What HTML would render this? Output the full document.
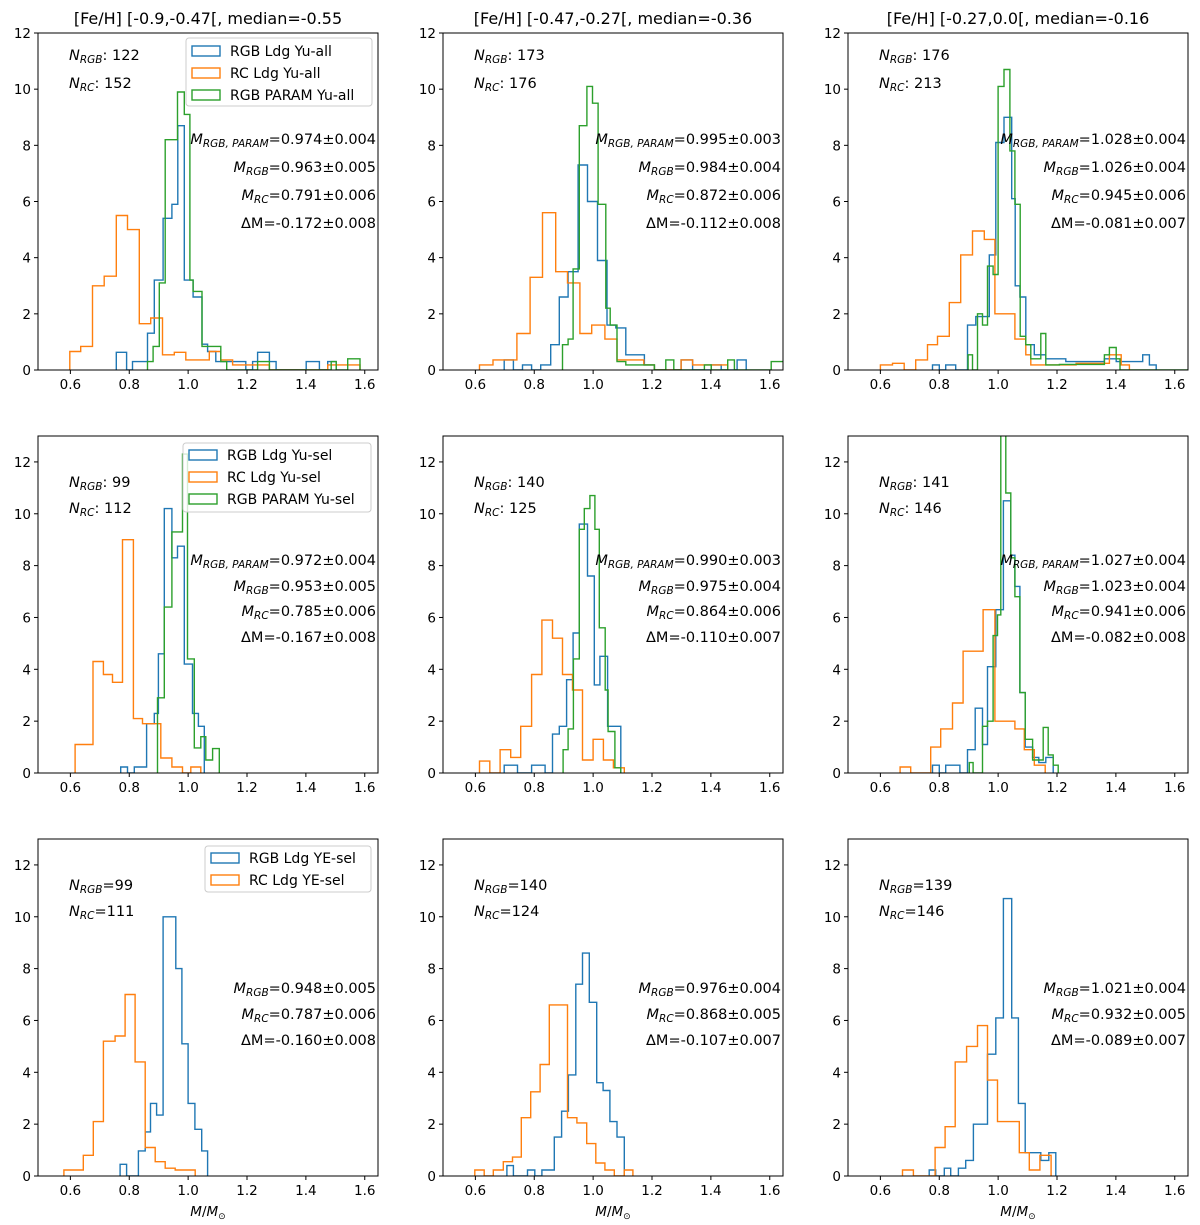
<!DOCTYPE html>
<html><head><meta charset="utf-8">
<style>
html,body{margin:0;padding:0;background:#fff;}
svg{display:block;font-family:"DejaVu Sans","Liberation Sans",sans-serif;}
</style></head>
<body>
<svg id="fig" width="1200" height="1225" viewBox="0 0 1200 1225" xmlns="http://www.w3.org/2000/svg"></svg>
<script>
// ---- data: histogram bin edges (M/Msun) and densities ----
const p1_rc_edges=[0.598,0.635,0.675,0.715,0.756,0.794,0.834,0.873,0.913,0.953,0.992,1.032,1.072,1.111,1.151,1.276,1.474,1.584];
const p1_rc_vals=[0.66,0.84,3.0,3.34,5.5,5.0,1.65,1.85,0.54,0.63,0.36,0.36,0.66,0.36,0.18,0,0.18];
const p1_rgb_edges=[0.756,0.791,0.811,0.862,0.885,0.915,0.945,0.965,0.987,1.017,1.047,1.066,1.094,1.111,1.196,1.219,1.236,1.276,1.299,1.401,1.446,1.474,1.503];
const p1_rgb_vals=[0.63,0,0.3,1.31,3.2,5.4,5.9,8.7,3.2,2.6,0.92,0.66,0.3,0.3,0,0.3,0.63,0.3,0,0.3,0,0.3];
const p1_par_edges=[0.862,0.881,0.902,0.922,0.964,0.987,1.006,1.017,1.047,1.111,1.131,1.236,1.276,1.486,1.503,1.542,1.584];
const p1_par_vals=[0.3,0.84,3.1,8.2,9.9,9.1,3.2,2.8,0.84,0.3,0,0.3,0,0.3,0,0.4];

const p2_rc_edges=[0.614,0.660,0.741,0.786,0.828,0.873,0.913,0.955,0.995,1.040,1.081,1.172,1.208,1.299,1.338,1.401,1.457];
const p2_rc_vals=[0.18,0.36,1.3,3.3,5.6,3.5,3.1,1.3,1.6,1.1,0.36,0.18,0,0.36,0.18,0.18];
const p2_rgb_edges=[0.698,0.729,0.760,0.791,0.822,0.856,0.885,0.915,0.949,0.981,1.015,1.047,1.077,1.111,1.174,1.208,1.299,1.338,1.401,1.435,1.489,1.520];
const p2_rgb_vals=[0.36,0,0.18,0,0.18,0.9,2.6,3.5,7.3,6.0,3.9,1.6,1.5,0.54,0.18,0,0.36,0,0.18,0,0.36];
const p2_par_edges=[0.896,0.915,0.932,0.953,0.979,0.998,1.017,1.043,1.058,1.081,1.111,1.208,1.247,1.274,1.378,1.401,1.457,1.480,1.605,1.65];
const p2_par_vals=[0.9,1.1,3.6,8.7,10.1,9.5,5.9,2.2,1.6,0.3,0.18,0,0.36,0,0.18,0,0.36,0,0.3];

const p3_rc_edges=[0.600,0.641,0.681,0.720,0.760,0.794,0.834,0.873,0.913,0.953,0.989,1.057,1.094,1.111,1.162,1.265,1.378,1.418,1.446];
const p3_rc_vals=[0.18,0.24,0,0.36,0.9,1.2,2.4,4.1,4.95,4.65,2.0,1.1,0.54,0.18,0.18,0.24,0.54,0.18];
const p3_rgb_edges=[0.777,0.800,0.822,0.856,0.896,0.924,0.970,0.992,1.020,1.046,1.058,1.074,1.094,1.123,1.162,1.230,1.361,1.401,1.491,1.514,1.537];
const p3_rgb_vals=[0.18,0,0.18,0,1.6,1.9,4.1,8.1,9.0,6.1,3.0,2.6,0.9,0.54,0.4,0.3,0.4,0.3,0.54,0.18];
const p3_par_edges=[0.898,0.913,0.930,0.947,0.964,0.983,1.000,1.020,1.040,1.057,1.075,1.094,1.111,1.145,1.162,1.208,1.361,1.378,1.401,1.414,1.644];
const p3_par_vals=[0.54,0,2.0,1.6,3.7,3.4,10.1,10.7,7.8,5.9,1.2,0.9,0.4,1.3,0.18,0.2,0.54,0.8,0.4,0];

const p4_rc_edges=[0.616,0.677,0.712,0.743,0.777,0.814,0.845,0.907,0.945,0.981,1.009,1.043];
const p4_rc_vals=[1.1,4.3,3.8,3.5,9.0,2.1,1.9,0.58,0.23,0,0.23];
const p4_rgb_edges=[0.771,0.794,0.817,0.859,0.885,0.899,0.919,0.945,0.964,0.987,1.015,1.035,1.055];
const p4_rgb_vals=[0.23,0,0.23,1.9,2.3,4.6,10.2,8.3,8.75,4.2,2.3,1.8];
const p4_par_edges=[0.896,0.919,0.945,0.981,0.998,1.021,1.043,1.060,1.083,1.106];
const p4_par_vals=[2.9,6.4,9.3,12.3,4.4,0.97,1.4,0.5,0.94];

const p5_rc_edges=[0.614,0.649,0.684,0.720,0.754,0.791,0.826,0.862,0.896,0.930,0.964,1.000,1.035,1.069,1.106];
const p5_rc_vals=[0.46,0,0.9,0.6,1.8,3.8,5.9,5.2,3.8,3.2,0.5,1.3,0.5,0.2];
const p5_rgb_edges=[0.698,0.743,0.791,0.837,0.862,0.885,0.910,0.932,0.953,0.981,1.004,1.023,1.049,1.094];
const p5_rgb_vals=[0.3,0,0.3,0,1.5,1.8,3.6,5.4,9.6,7.6,3.4,4.5,1.8];
const p5_par_edges=[0.898,0.915,0.933,0.953,0.970,0.989,1.006,1.021,1.041,1.051,1.074,1.094];
const p5_par_vals=[0.9,1.7,4.4,9.4,10.2,10.7,9.4,5.6,3.2,1.6,0.2];

const p6_rc_edges=[0.667,0.703,0.771,0.805,0.845,0.881,0.949,0.989,1.021,1.057,1.089,1.123,1.160];
const p6_rc_vals=[0.23,0,1.0,1.7,2.7,4.7,6.3,2.0,2.0,1.7,0.9,0.3];
const p6_rgb_edges=[0.777,0.800,0.822,0.870,0.896,0.922,0.947,0.964,0.992,1.018,1.043,1.057,1.074,1.092,1.117,1.138,1.162,1.187];
const p6_rgb_vals=[0.3,0,0.3,0,0.9,2.5,1.1,4.1,6.3,10.5,8.4,7.2,3.1,1.0,0.6,0.4,0.6];
const p6_par_edges=[0.902,0.915,0.947,0.964,0.983,0.998,1.009,1.026,1.043,1.057,1.074,1.092,1.117,1.153,1.170,1.187,1.204];
const p6_par_vals=[0.4,0,1.8,2.0,5.3,6.1,13.5,10.8,8.3,6.8,3.1,1.3,0.5,1.76,0.7,0.3];

const p7_rc_edges=[0.578,0.644,0.678,0.712,0.752,0.786,0.820,0.854,0.888,0.922,0.956,1.024];
const p7_rc_vals=[0.23,0.8,2.1,5.2,5.4,7.0,4.4,1.1,0.55,0.3,0.23];
const p7_rgb_edges=[0.769,0.791,0.831,0.854,0.872,0.893,0.915,0.958,0.979,1.000,1.023,1.046,1.066];
const p7_rgb_vals=[0.45,0,0.97,1.7,2.8,2.35,10.0,8.0,5.1,2.8,1.8,0.97];

const p8_rc_edges=[0.598,0.630,0.661,0.695,0.726,0.756,0.788,0.820,0.851,0.913,0.945,0.978,1.009,1.040,1.072,1.106,1.135];
const p8_rc_vals=[0.23,0,0.23,0.55,0.73,2.25,3.25,4.3,6.6,2.25,2.05,1.25,0.5,0.23,0,0.23];
const p8_rgb_edges=[0.707,0.729,0.777,0.802,0.826,0.868,0.893,0.916,0.941,0.964,0.987,1.012,1.034,1.057,1.081,1.106];
const p8_rgb_vals=[0.4,0,0.23,0,0.23,1.5,2.5,3.9,7.4,8.6,6.7,3.6,3.3,2.1,1.5];

const p9_rc_edges=[0.675,0.712,0.786,0.820,0.854,0.893,0.930,0.964,0.998,1.072,1.106,1.142,1.180];
const p9_rc_vals=[0.23,0,1.1,1.9,4.4,5.0,5.8,3.7,2.1,0.9,0.23,0.8];
const p9_rgb_edges=[0.766,0.788,0.817,0.839,0.865,0.890,0.916,0.964,0.992,1.018,1.046,1.069,1.092,1.145,1.172,1.196];
const p9_rgb_vals=[0.23,0,0.3,0,0.3,0.6,2.0,4.7,6.1,10.7,6.1,2.8,0.9,0.6,0.9];

const xTicks=[0.6,0.8,1.0,1.2,1.4,1.6];
const xTickLabels=["0.6","0.8","1.0","1.2","1.4","1.6"];
const yTicks=[0,2,4,6,8,10,12];
const yTickLabels=["0","2","4","6","8","10","12"];
const titles=["[Fe/H] [-0.9,-0.47[, median=-0.55","[Fe/H] [-0.47,-0.27[, median=-0.36","[Fe/H] [-0.27,0.0[, median=-0.16"];
const nRgb=["122","173","176","99","140","141","99","140","139"];
const nRc=["152","176","213","112","125","146","111","124","146"];
const mParam=["0.974±0.004","0.995±0.003","1.028±0.004","0.972±0.004","0.990±0.003","1.027±0.004"];
const mRgb=["0.963±0.005","0.984±0.004","1.026±0.004","0.953±0.005","0.975±0.004","1.023±0.004","0.948±0.005","0.976±0.004","1.021±0.004"];
const mRc=["0.791±0.006","0.872±0.006","0.945±0.006","0.785±0.006","0.864±0.006","0.941±0.006","0.787±0.006","0.868±0.005","0.932±0.005"];
const dM=["-0.172±0.008","-0.112±0.008","-0.081±0.007","-0.167±0.008","-0.110±0.007","-0.082±0.008","-0.160±0.008","-0.107±0.007","-0.089±0.007"];

const BLUE="#1f77b4",ORANGE="#ff7f0e",GREEN="#2ca02c";
const panels=[
 {rgb:[p1_rgb_edges,p1_rgb_vals],rc:[p1_rc_edges,p1_rc_vals],par:[p1_par_edges,p1_par_vals]},
 {rgb:[p2_rgb_edges,p2_rgb_vals],rc:[p2_rc_edges,p2_rc_vals],par:[p2_par_edges,p2_par_vals]},
 {rgb:[p3_rgb_edges,p3_rgb_vals],rc:[p3_rc_edges,p3_rc_vals],par:[p3_par_edges,p3_par_vals]},
 {rgb:[p4_rgb_edges,p4_rgb_vals],rc:[p4_rc_edges,p4_rc_vals],par:[p4_par_edges,p4_par_vals]},
 {rgb:[p5_rgb_edges,p5_rgb_vals],rc:[p5_rc_edges,p5_rc_vals],par:[p5_par_edges,p5_par_vals]},
 {rgb:[p6_rgb_edges,p6_rgb_vals],rc:[p6_rc_edges,p6_rc_vals],par:[p6_par_edges,p6_par_vals]},
 {rgb:[p7_rgb_edges,p7_rgb_vals],rc:[p7_rc_edges,p7_rc_vals]},
 {rgb:[p8_rgb_edges,p8_rgb_vals],rc:[p8_rc_edges,p8_rc_vals]},
 {rgb:[p9_rgb_edges,p9_rgb_vals],rc:[p9_rc_edges,p9_rc_vals]}
];
const colLeft=[38,443,848], W=340, XMIN=0.49, XMAX=1.645;
const rowTop=[33,436,839], rowBot=[370,773,1176], rowYmax=[12,13,13];

const NS="http://www.w3.org/2000/svg";
const svg=document.getElementById('fig');
function mk(tag,attrs,parent){const e=document.createElementNS(NS,tag);for(const k in attrs)e.setAttribute(k,attrs[k]);(parent||svg).appendChild(e);return e;}

panels.forEach((p,i)=>{
  const r=Math.floor(i/3),c=i%3;
  const L=colLeft[c],T=rowTop[r],B=rowBot[r],ymax=rowYmax[r];
  const xs=v=>L+(v-XMIN)/(XMAX-XMIN)*W;
  const ys=v=>B-v/ymax*(B-T);
  const g=mk('g',{});
  
  
  const cid='clip'+i;
  const cp=mk('clipPath',{id:cid},g); mk('rect',{x:L,y:T,width:W,height:B-T},cp);
  [['rgb',BLUE],['rc',ORANGE],['par',GREEN]].forEach(([k,col])=>{
    if(!p[k])return;
    const [ed,vals]=p[k];
    let d='M'+xs(ed[0]).toFixed(1)+','+ys(0).toFixed(1);
    for(let j=0;j<vals.length;j++){
      d+=' L'+xs(ed[j]).toFixed(1)+','+ys(vals[j]).toFixed(1)+' L'+xs(ed[j+1]).toFixed(1)+','+ys(vals[j]).toFixed(1);
    }
    d+=' L'+xs(ed[ed.length-1]).toFixed(1)+','+ys(0).toFixed(1);
    const path=mk('path',{d:d,fill:'none',stroke:col,'stroke-width':1.4,'clip-path':'url(#'+cid+')'},g);
    
    
  });
  const fr=mk('rect',{x:L,y:T,width:W,height:B-T,fill:'none',stroke:'#000','stroke-width':1},g);
  
  
  xTicks.forEach((t,k)=>{
    const x=xs(t);
    mk('line',{x1:x,y1:B,x2:x,y2:B+4,stroke:'#000','stroke-width':1},g);
    const tx=mk('text',{x:x,y:B+19,'font-size':13.5,'text-anchor':'middle'},g);
    tx.textContent=xTickLabels[k];
    
    
  });
  yTicks.forEach((t,k)=>{
    const y=ys(t);
    mk('line',{x1:L-4,y1:y,x2:L,y2:y,stroke:'#000','stroke-width':1},g);
    const ty=mk('text',{x:L-7,y:y+5,'font-size':13.5,'text-anchor':'end'},g);
    ty.textContent=yTickLabels[k];
    
    
  });
  const sep=r<2?': ':'=';
  const nyA=[55,482,885][r], nyB=[83,508,911][r];
  function nlabel(y,sub,val,name){
    const t=mk('text',{x:L+31,y:y+5,'font-size':14.5},g);
    
    
    t.innerHTML='<tspan font-style="italic">N</tspan><tspan font-style="italic" font-size="10.5" dy="3">'+sub+'</tspan><tspan dy="-3">'+sep+val+'</tspan>';
  }
  nlabel(nyA,'RGB',nRgb[i],'n-rgb-label');
  nlabel(nyB,'RC',nRc[i],'n-rc-label');
  const R=L+W-2;
  let ys_=r===0?[139,167,195,223]:(r===1?[560,586,611,637]:[null,988,1014,1040]);
  function mlabel(y,sub,val,name){
    const t=mk('text',{x:R,y:y+5,'font-size':14.5,'text-anchor':'end'},g);
    
    
    t.innerHTML='<tspan font-style="italic">M</tspan><tspan font-style="italic" font-size="10.5" dy="3">'+sub+'</tspan><tspan dy="-3">='+val+'</tspan>';
  }
  if(r<2) mlabel(ys_[0],'RGB, PARAM',mParam[i],'m-rgb-param-label');
  mlabel(ys_[1],'RGB',mRgb[i],'m-rgb-label');
  mlabel(ys_[2],'RC',mRc[i],'m-rc-label');
  const dt=mk('text',{x:R,y:ys_[3]+5,'font-size':14.5,'text-anchor':'end'},g);
  dt.textContent='ΔM='+dM[i];
  
  
  if(r===0){
    const tt=mk('text',{x:L+W/2,y:24,'font-size':16,'text-anchor':'middle'},g);
    tt.textContent=titles[c];
    
    
  }
  if(r===2){
    const xl=mk('text',{x:L+W/2,y:1216,'font-size':13.5,'text-anchor':'middle'},g);
    xl.innerHTML='<tspan font-style="italic">M</tspan>/<tspan font-style="italic">M</tspan><tspan font-size="9" dy="3">⊙</tspan>';
    
    
  }
  if(c===0){
    const tag=['Yu-all','Yu-sel','YE-sel'][r];
    const entries=r<2?[['RGB Ldg '+tag,BLUE],['RC Ldg '+tag,ORANGE],['RGB PARAM '+tag,GREEN]]:[['RGB Ldg '+tag,BLUE],['RC Ldg '+tag,ORANGE]];
    const box=r===0?{x:186,y:38,w:186,h:68,e0:51}:(r===1?{x:183,y:443,w:188,h:69,e0:455}:{x:205,y:846,w:166,h:46,e0:858});
    const lg=mk('g',{},g);
    
    
    mk('rect',{x:box.x,y:box.y,width:box.w,height:box.h,rx:3,fill:'#fff','fill-opacity':0.8,stroke:'#ccc','stroke-width':1},lg);
    entries.forEach((en,k)=>{
      const y=box.e0+k*22;
      const sw=mk('rect',{x:box.x+6,y:y-5,width:28,height:10,fill:'none',stroke:en[1],'stroke-width':1.4},lg);
      
      
      const lt=mk('text',{x:box.x+44,y:y+5,'font-size':14},lg);
      lt.textContent=en[0];
      
      
    });
  }
});
</script>
</body></html>
